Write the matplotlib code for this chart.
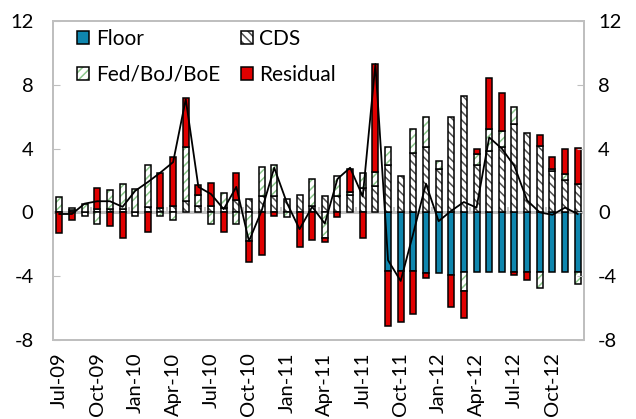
import matplotlib.pyplot as plt
import matplotlib.colors as mcolors
from matplotlib.patches import Patch
import numpy as np
import pandas as pd

plt.rcParams['font.family'] = ['Lato', 'DejaVu Sans']
plt.rcParams['axes.unicode_minus'] = False
plt.rcParams['hatch.linewidth'] = 1.1

# 月份 Jul-09 .. Dec-12
months = list(pd.date_range('2009-07-01', periods=42, freq='MS').strftime('%b-%y'))

floor = [0, 0, 0, 0, 0, 0, 0, 0, 0, 0,
         0, 0, 0, 0, 0, 0, 0, 0, 0, 0,
         0, 0, 0, 0, 0, 0, -3.7, -3.7, -3.7, -3.8,
         -3.8, -3.9, -3.75, -3.75, -3.75, -3.75, -3.75, -3.75, -3.75, -3.75,
         -3.75, -3.75]
cds = [0, 0.15, -0.2, 0.2, 0.2, 0.2, -0.2, 0.35, 0.3, 0.4,
       0.7, 0.4, 0.4, 0.3, 0.8, 0.85, 1.05, 1.05, 0.85, 1.1,
       0.4, 1.0, 1.05, 1.1, 1.55, 1.65, 2.95, 2.3, 3.75, 4.1,
       2.7, 6.0, 7.3, 2.95, 3.85, 4.1, 5.55, 5.0, 4.15, 2.6,
       2.0, 1.8]
fed = [0.95, 0.15, 0.55, -0.7, 1.2, 1.6, 1.45, 2.6, -0.2, -0.45,
       3.4, 0.7, -0.7, 0.9, -0.7, -1.8, 1.8, 1.95, -0.3, 0,
       1.7, -1.6, 1.25, 0.2, 0.9, 0.9, 1.15, 0, 1.5, 1.9,
       0.55, 0, -1.15, 0.7, 1.4, 1.0, 1.05, 0, -1.0, 0.1,
       0.4, -0.75]
resid = [-1.3, -0.5, 0, 1.3, -0.85, -1.6, 0, -1.25, 2.2, 3.05,
         3.05, 0.6, 1.45, -1.25, 1.65, -1.3, -2.7, -0.2, 0, -2.2,
         -1.7, -0.25, -0.3, 1.4, -1.6, 6.75, -3.45, -3.2, -2.7, -0.3,
         0, -2.0, -1.7, 0.35, 3.15, 2.4, -0.2, -0.5, 0.7, 0.75,
         1.55, 2.25]
total = [-0.1, -0.1, 0.55, 0.7, 0.7, 0.35, 1.35, 1.9, 2.5, 3.15,
         7.1, 1.6, 1.15, 0.2, 1.6, -1.8, 0.1, 2.8, 0.6, -1.05,
         0.35, -0.7, 2.1, 2.8, 1.0, 9.3, -3.0, -4.3, -1.3, 1.8,
         -0.55, 0.1, 0.65, 0.3, 4.7, 4.0, 2.9, 0.75, 0.0, -0.15,
         0.3, -0.1]


def set_hatch_color(p, c):
    # 阴影线颜色与边框颜色分开
    if hasattr(p, 'set_hatchcolor'):
        p.set_hatchcolor(c)
    else:
        p._hatch_color = mcolors.to_rgba(c)


fig = plt.figure(figsize=(6.36, 4.19), dpi=100)
ax = fig.add_axes([53 / 636, 1 - 340 / 419, 531 / 636, 319 / 419])

x = np.arange(len(months))
series = [
    ('Floor', floor, '#0F86AE', None, None),
    ('CDS', cds, 'white', '\\\\\\\\', '#505050'),
    ('Fed/BoJ/BoE', fed, 'white', '////', '#8CC88C'),
    ('Residual', resid, '#E00000', None, None),
]

pos_base = np.zeros(len(x))
neg_base = np.zeros(len(x))
handles = {}
for name, vals, fc, hatch, hc in series:
    v = np.array(vals, dtype=float)
    m = v != 0
    bottom = np.where(v > 0, pos_base, neg_base)
    bars = ax.bar(x[m], v[m], 0.48, bottom=bottom[m], color=fc, edgecolor='black',
                  linewidth=1.1, hatch=hatch, zorder=3)
    if hc:
        for p in bars:
            set_hatch_color(p, hc)
    pos_base += np.where(v > 0, v, 0)
    neg_base += np.where(v < 0, v, 0)
    h = Patch(facecolor=fc, edgecolor='black', linewidth=1.1, hatch=hatch)
    if hc:
        set_hatch_color(h, hc)
    handles[name] = h

ax.plot(x, total, color='black', lw=1.3, zorder=4)

# 零线和小刻度
ax.axhline(0, color='#BFBFBF', lw=2.2, zorder=2)
ax.vlines(np.arange(2.5, 42, 3), 0, 0.35, color='#BFBFBF', lw=1.2, zorder=2)

ax.set_xlim(-0.5, 41.5)
ax.set_ylim(-8, 12)
ax.set_yticks([-8, -4, 0, 4, 8, 12])
ax.tick_params(axis='y', direction='in', length=5, color='#BFBFBF', labelsize=14.5, pad=14)
ax.set_xticks(x[::3])
ax.set_xticklabels(months[::3], rotation=90)
ax.tick_params(axis='x', length=0, labelsize=14.5, pad=9)

# 右侧坐标轴
ax2 = ax.twinx()
ax2.set_ylim(-8, 12)
ax2.set_yticks([-8, -4, 0, 4, 8, 12])
ax2.tick_params(axis='y', direction='in', length=5, color='#BFBFBF', labelsize=14.5, pad=10)

for a in (ax, ax2):
    for s in a.spines.values():
        s.set_color('#BFBFBF')
        s.set_linewidth(1.3)

order = ['Floor', 'Fed/BoJ/BoE', 'CDS', 'Residual']
ax.legend([handles[k] for k in order], order, ncol=2, loc='upper left',
          bbox_to_anchor=(0.045, 0.975), frameon=False, fontsize=15,
          handlelength=0.6, handleheight=0.6, handletextpad=0.3,
          columnspacing=1.0, labelspacing=0.75, borderpad=0, borderaxespad=0)

plt.savefig('out.png', dpi=100)
